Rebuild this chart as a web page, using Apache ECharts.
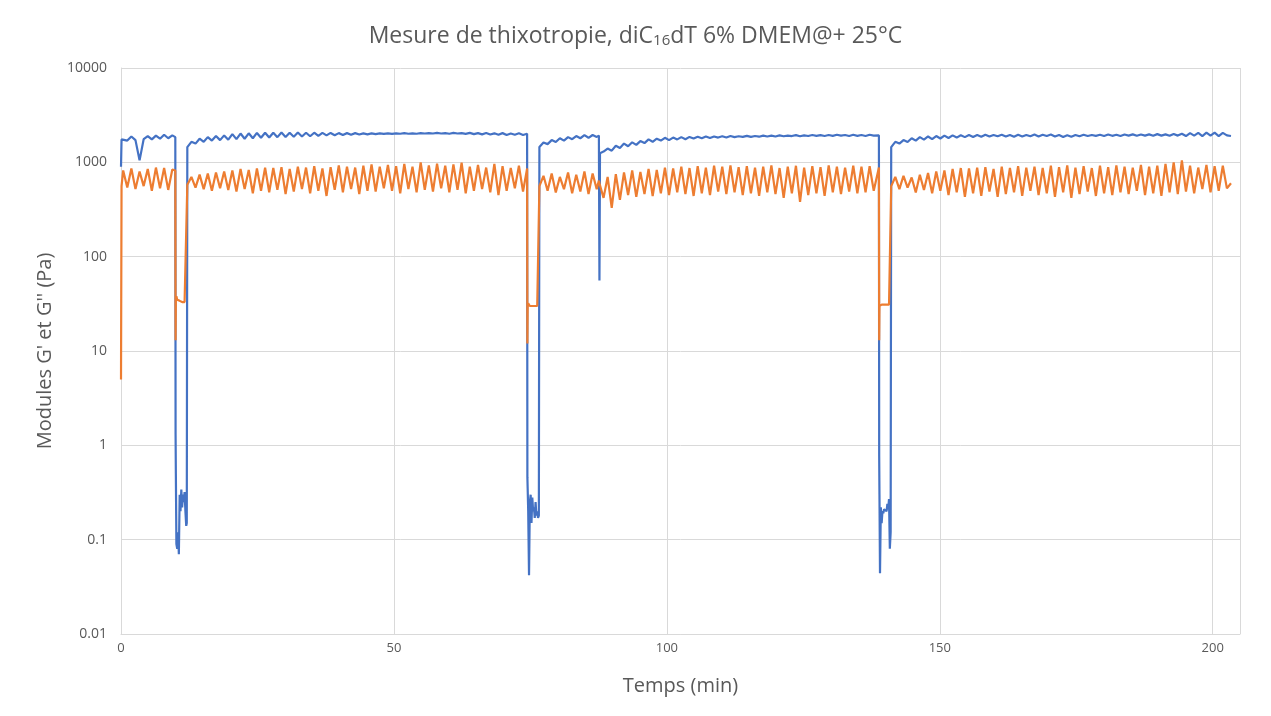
<!DOCTYPE html>
<html>
<head>
<meta charset="utf-8">
<title>Mesure de thixotropie</title>
<script src="https://cdn.jsdelivr.net/npm/echarts@6/dist/echarts.min.js"></script>
<style>
  html, body { margin: 0; padding: 0; background: #fff; }
  #chart { width: 1271px; height: 716px; }
</style>
</head>
<body>
<div id="chart"></div>
<script>
// le rhéomètre enregistre à pas constant sur les plateaux (min)
const stepMin = 0.75

// démarrage
const startTimes = [0, 0.1]
const startG1 = [900, 1750]
const startG2 = [5, 560]

// plateau 1 (repos)
const plat1Start = 0.4
const plat1G1 = [1820, 1700, 1880, 1720, 1050, 1760, 1900, 1750, 1920, 1780, 1960, 1800, 1930]
const plat1G2 = [820, 540, 860, 520, 800, 560, 850, 500, 880, 530, 870, 510, 840]

// cisaillement 1
const shear1Times = [9.95, 10.0, 10.05, 10.15, 10.3, 10.45, 10.6, 10.75, 10.9, 11.05, 11.2, 11.35, 11.5, 11.65, 11.8, 11.95, 12.05]
const shear1G1 = [1850, 1.3, 0.5, 0.09, 0.08, 0.12, 0.07, 0.3, 0.2, 0.34, 0.22, 0.3, 0.25, 0.32, 0.2, 0.14, 0.15]
const shear1G2 = [820, 13, 36, 38, 35, 34, 34, 34, 34, 33, 33, 33, 33, 33, 33, 33, 33]

// plateau 2
const plat2Start = 12.15
const plat2G1 = [
  1450, 1650, 1580, 1780, 1650, 1850, 1700, 1900, 1720, 1930,
  1740, 1990, 1760, 2020, 1780, 2030, 1800, 2050, 1820, 2060,
  1830, 2060, 1850, 2070, 1860, 2060, 1870, 2070, 1880, 2060,
  1890, 2060, 1910, 2050, 1930, 2050, 1940, 2040, 1950, 2040,
  1960, 2040, 1970, 2030, 1980, 2030, 1990, 2030, 2000, 2030,
  2000, 2030, 2010, 2040, 2010, 2030, 2010, 2040, 2020, 2040,
  2020, 2050, 2020, 2040, 2010, 2050, 2020, 2040, 2000, 2050,
  1990, 2040, 1980, 2050, 1970, 2030, 1960, 2040, 1950, 2020,
  1960, 2030, 1950, 2010
]
const plat2G2 = [
  580, 700, 540, 740, 520, 760, 500, 780, 530, 800,
  510, 820, 490, 850, 520, 830, 470, 860, 500, 880,
  480, 870, 510, 890, 460, 850, 490, 900, 520, 880,
  470, 910, 500, 860, 440, 890, 510, 930, 480, 900,
  520, 880, 460, 920, 500, 950, 490, 900, 530, 940,
  500, 910, 470, 960, 520, 900, 480, 1000, 510, 930,
  490, 970, 530, 920, 480, 950, 510, 990, 470, 900,
  500, 940, 520, 880, 480, 960, 450, 910, 500, 870,
  530, 920, 490, 860
]

// cisaillement 2
const shear2Times = [74.45, 74.5, 74.6, 74.75, 74.9, 75.05, 75.2, 75.35, 75.5, 75.65, 75.8, 75.95, 76.1, 76.25, 76.4, 76.55]
const shear2G1 = [0.46, 0.35, 0.2, 0.042, 0.25, 0.3, 0.15, 0.28, 0.2, 0.22, 0.17, 0.25, 0.18, 0.2, 0.17, 0.18]
const shear2G2 = [12, 30, 32, 31, 30, 30, 30, 30, 30, 30, 30, 30, 30, 30, 30, 30]

// plateau 3, avant l'artefact
const plat3aStart = 76.65
const plat3aG1 = [1450, 1620, 1560, 1720, 1640, 1800, 1700, 1850, 1760, 1900, 1800, 1940, 1820, 1950, 1860]
const plat3aG2 = [560, 720, 500, 760, 480, 700, 520, 780, 470, 740, 490, 800, 460, 760, 520]

// artefact ponctuel vers 87.7 min
const glitchTimes = [87.55, 87.65, 87.75]
const glitchG1 = [1920, 56, 1250]
const glitchG2 = [640, 600, 580]

// plateau 3, après l'artefact
const plat3bStart = 88.4
const plat3bG1 = [
  1300, 1400, 1330, 1500, 1420, 1580, 1480, 1630, 1530, 1680,
  1600, 1750, 1650, 1780, 1700, 1820, 1720, 1830, 1750, 1850,
  1760, 1860, 1790, 1870, 1800, 1880, 1810, 1880, 1830, 1890,
  1830, 1900, 1850, 1890, 1860, 1910, 1860, 1900, 1870, 1920,
  1880, 1920, 1880, 1930, 1890, 1920, 1900, 1940, 1890, 1930,
  1900, 1950, 1910, 1940, 1900, 1950, 1910, 1960, 1920, 1950,
  1900, 1960, 1910, 1950, 1900, 1960, 1920
]
const plat3bG2 = [
  420, 700, 330, 750, 400, 780, 450, 820, 430, 790,
  460, 850, 440, 830, 470, 880, 450, 860, 480, 900,
  460, 870, 440, 910, 470, 880, 450, 920, 490, 900,
  460, 930, 480, 890, 450, 910, 470, 880, 440, 900,
  480, 930, 460, 870, 420, 900, 470, 920, 380, 880,
  450, 910, 470, 890, 440, 930, 480, 900, 460, 880,
  490, 920, 470, 900, 480, 910, 500
]

// cisaillement 3
const shear3Times = [138.85, 138.9, 138.95, 139.05, 139.2, 139.35, 139.5, 139.65, 139.8, 139.95, 140.1, 140.25, 140.4, 140.55, 140.7, 140.85, 141.0]
const shear3G1 = [1930, 0.76, 0.3, 0.044, 0.22, 0.15, 0.2, 0.19, 0.21, 0.2, 0.22, 0.2, 0.24, 0.21, 0.27, 0.08, 0.12]
const shear3G2 = [880, 13, 30, 31, 31, 31, 31, 31, 31, 31, 31, 31, 31, 31, 31, 31, 31]

// plateau 4
const plat4Start = 141.1
const plat4G1 = [
  1450, 1650, 1580, 1720, 1640, 1800, 1700, 1850, 1740, 1880,
  1760, 1900, 1790, 1920, 1810, 1930, 1830, 1940, 1850, 1950,
  1860, 1950, 1870, 1960, 1880, 1950, 1890, 1960, 1880, 1950,
  1870, 1960, 1880, 1950, 1890, 1970, 1880, 1960, 1900, 1970,
  1880, 1950, 1860, 1940, 1870, 1950, 1890, 1960, 1900, 1950,
  1910, 1960, 1900, 1970, 1910, 1960, 1900, 1970, 1920, 1980,
  1910, 1970, 1920, 1980, 1910, 1990, 1920, 1980, 1910, 2000,
  1920, 2010, 1900, 2040, 1920, 2050, 1900, 2060, 1920, 2060,
  1900, 2050, 1930, 1900
]
const plat4G2 = [
  560, 700, 520, 720, 540, 690, 480, 740, 510, 770,
  470, 800, 500, 820, 450, 850, 480, 870, 430, 860,
  470, 880, 440, 890, 490, 850, 430, 900, 460, 870,
  480, 910, 440, 880, 500, 900, 450, 870, 470, 920,
  430, 890, 480, 930, 420, 880, 460, 910, 490, 870,
  440, 920, 470, 890, 450, 930, 480, 900, 460, 880,
  500, 940, 450, 900, 470, 920, 440, 960, 480, 1000,
  460, 1050, 490, 920, 470, 880, 520, 940, 480, 910,
  500, 920, 530, 600
]

const xTicks = [0, 50, 100, 150, 200]

function pairs(times, values) {
  return values.map((v, i) => [times[i], v])
}
function plateau(start, values) {
  return values.map((v, i) => [+(start + i * stepMin).toFixed(2), v])
}

const gPrime = [].concat(
  pairs(startTimes, startG1),
  plateau(plat1Start, plat1G1),
  pairs(shear1Times, shear1G1),
  plateau(plat2Start, plat2G1),
  pairs(shear2Times, shear2G1),
  plateau(plat3aStart, plat3aG1),
  pairs(glitchTimes, glitchG1),
  plateau(plat3bStart, plat3bG1),
  pairs(shear3Times, shear3G1),
  plateau(plat4Start, plat4G1)
)
const gSecond = [].concat(
  pairs(startTimes, startG2),
  plateau(plat1Start, plat1G2),
  pairs(shear1Times, shear1G2),
  plateau(plat2Start, plat2G2),
  pairs(shear2Times, shear2G2),
  plateau(plat3aStart, plat3aG2),
  pairs(glitchTimes, glitchG2),
  plateau(plat3bStart, plat3bG2),
  pairs(shear3Times, shear3G2),
  plateau(plat4Start, plat4G2)
)

const font = 'Open Sans'
const grey = '#595959'

const chart = echarts.init(document.getElementById('chart'))
chart.setOption({
  animation: false,
  title: {
    text: 'Mesure de thixotropie, diC{sub|16}dT 6% DMEM@+ 25°C',
    left: 'center',
    top: 19,
    textStyle: {
      fontFamily: font,
      fontSize: 23,
      fontWeight: 'normal',
      color: grey,
      rich: {
        sub: { fontFamily: font, fontSize: 15, color: grey, verticalAlign: 'bottom', padding: [9, 0, 0, 0] }
      }
    }
  },
  grid: { left: 121, right: 31, top: 68, bottom: 82 },
  xAxis: {
    type: 'value',
    min: 0,
    max: 205,
    interval: 50,
    name: 'Temps (min)',
    nameLocation: 'middle',
    nameGap: 42,
    nameTextStyle: { fontFamily: font, fontSize: 20, color: grey },
    axisLine: { show: true, lineStyle: { color: '#d9d9d9' } },
    axisTick: { show: false },
    axisLabel: {
      fontFamily: font, fontSize: 13, color: grey, margin: 8,
      showMaxLabel: false,
      formatter: v => xTicks.indexOf(v) >= 0 ? String(v) : ''
    },
    splitLine: { show: true, lineStyle: { color: '#d9d9d9', width: 1 } }
  },
  yAxis: {
    type: 'log',
    logBase: 10,
    min: 0.01,
    max: 10000,
    name: "Modules G' et G'' (Pa)",
    nameLocation: 'middle',
    nameGap: 66,
    nameTextStyle: { fontFamily: font, fontSize: 20, color: grey },
    axisLine: { show: true, lineStyle: { color: '#d9d9d9' } },
    axisTick: { show: false },
    axisLabel: {
      fontFamily: font, fontSize: 14, color: grey, margin: 14,
      formatter: v => String(+v.toPrecision(3))
    },
    splitLine: { show: true, lineStyle: { color: '#d9d9d9', width: 1 } }
  },
  series: [
    {
      name: "G'",
      type: 'line',
      data: gPrime,
      showSymbol: false,
      lineStyle: { color: '#4472c4', width: 2.2 },
      itemStyle: { color: '#4472c4' }
    },
    {
      name: "G''",
      type: 'line',
      data: gSecond,
      showSymbol: false,
      lineStyle: { color: '#ed7d31', width: 2.2 },
      itemStyle: { color: '#ed7d31' }
    }
  ]
})
</script>
</body>
</html>
